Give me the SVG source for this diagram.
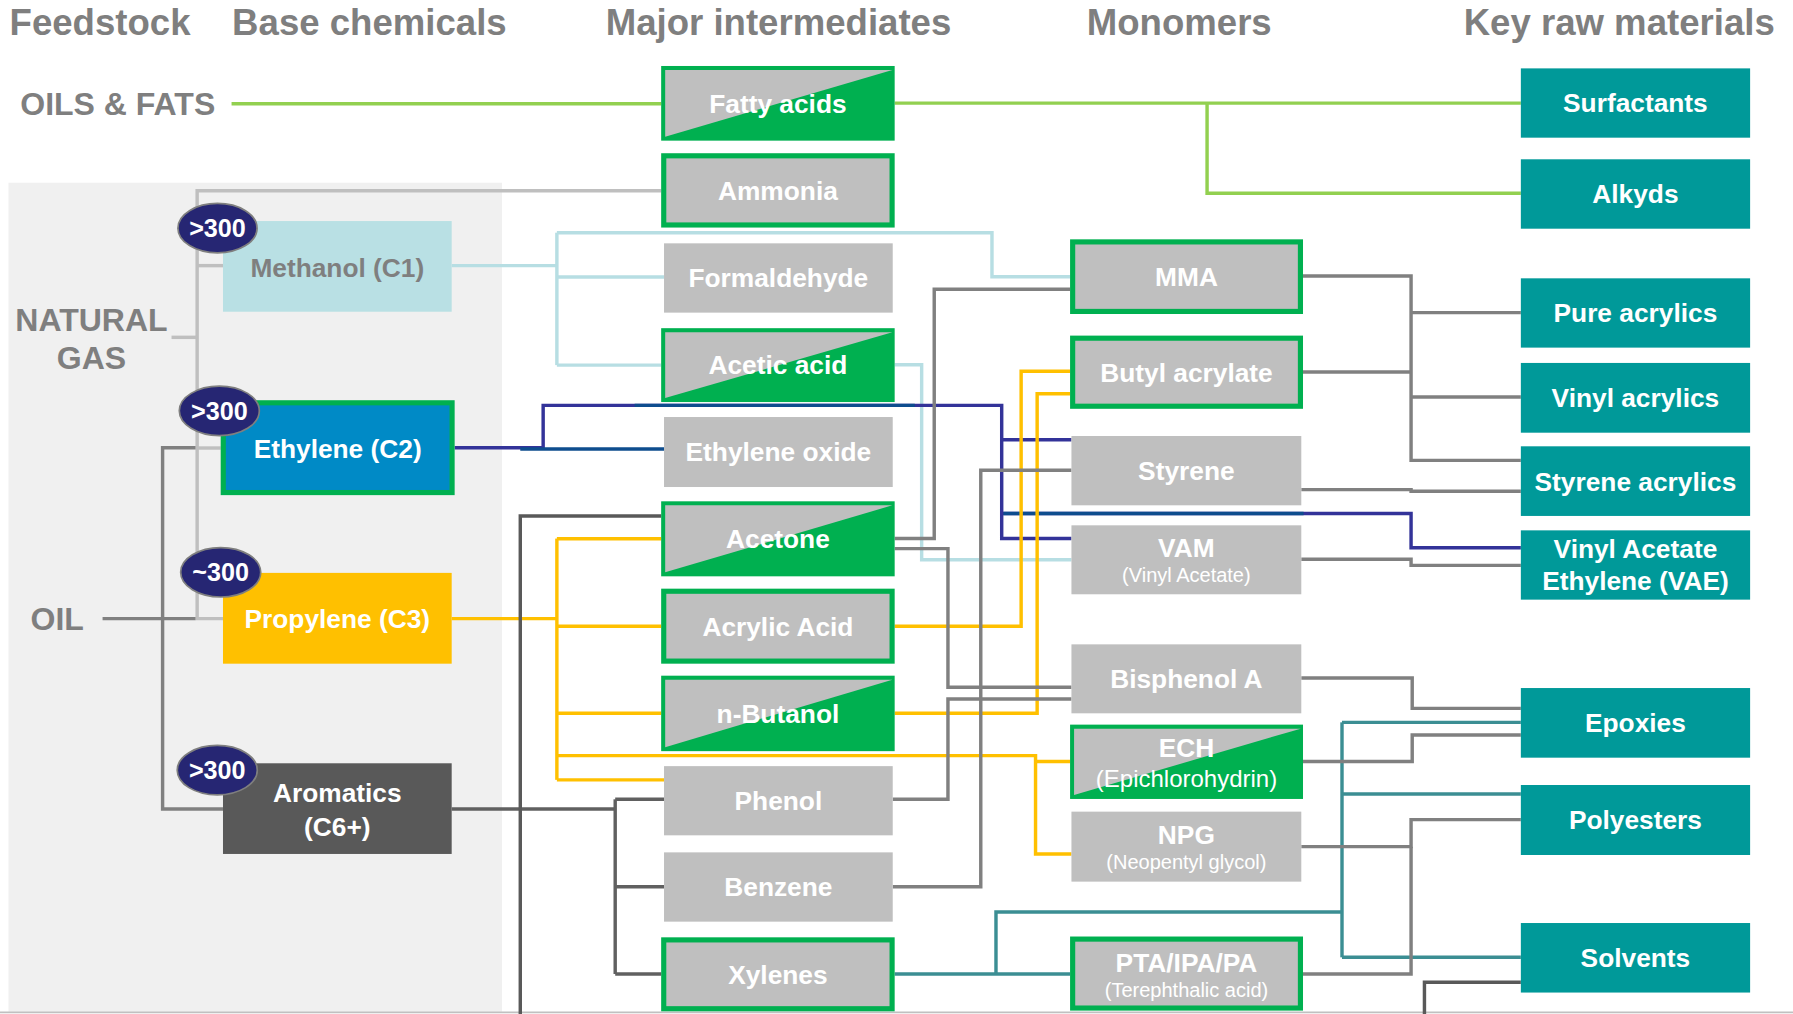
<svg xmlns="http://www.w3.org/2000/svg" width="1793" height="1014" viewBox="0 0 1793 1014">
<defs>
<style>
.hdr{font-family:"Liberation Sans",Arial,sans-serif;font-weight:bold;font-size:32px;fill:#7f7f7f}
.feed{font-family:"Liberation Sans",Arial,sans-serif;font-weight:bold;font-size:28px;fill:#7f7f7f;text-anchor:middle}
.lbl{font-family:"Liberation Sans",Arial,sans-serif;font-weight:bold;font-size:23px;fill:#ffffff;text-anchor:middle}
.lblg{font-family:"Liberation Sans",Arial,sans-serif;font-weight:bold;font-size:23px;fill:#7f7f7f;text-anchor:middle}
.sub{font-family:"Liberation Sans",Arial,sans-serif;font-size:17.5px;fill:#ffffff;text-anchor:middle}
.bdg{font-family:"Liberation Sans",Arial,sans-serif;font-weight:bold;font-size:22px;fill:#ffffff;text-anchor:middle}
.grn{fill:#00b050}
.gry{fill:#bfbfbf}
.key{fill:#009999}
.oval{fill:#262673;stroke:#7f7f7f;stroke-width:1.5}
.c{fill:none;stroke-width:3}
.lg{stroke:#92d050}
.lgr{stroke:#bfbfbf}
.dg{stroke:#808080}
.dk{stroke:#606060}
.lb{stroke:#b7dee3}
.pu{stroke:#333399}
.bl{stroke:#0e4d8e}
.ye{stroke:#ffc000}
.te{stroke:#3b8e93}
</style>
</defs>
<rect width="1793" height="1014" fill="#ffffff"/>
<g transform="scale(1.14349)">
<rect id="panel" x="7.4" y="159.8" width="431.6" height="725" fill="#f0f0f0"/>
<line x1="0" y1="885.3" x2="1568" y2="885.3" stroke="#c0c0c0" stroke-width="1.5"/>

<g id="headers">
<text class="hdr" x="8.4" y="30.6">Feedstock</text>
<text class="hdr" x="203" y="30.6">Base chemicals</text>
<text class="hdr" x="529.7" y="30.6">Major intermediates</text>
<text class="hdr" x="950.4" y="30.6">Monomers</text>
<text class="hdr" x="1280" y="30.6">Key raw materials</text>
</g>

<g id="connectors">
<path class="c lg" d="M202.5,90.7 H578.2"/>
<path class="c lg" d="M782.4,90.2 H1330"/>
<path class="c lg" d="M1055.6,90.2 V169 H1330"/>

<path class="c lgr" d="M578.2,166.8 H172.4 V541 H195"/>
<path class="c lgr" d="M172.4,232.3 H195"/>
<path class="c lgr" d="M150,295 H172.4"/>
<path class="c lgr" d="M172.4,391.8 H193"/>

<path class="c dg" d="M89.7,541 H171"/>
<path class="c dg" d="M171,391.6 H142.2 V707.5 H195"/>

<path class="c lb" d="M395,232.3 H487"/>
<path class="c lb" d="M487,203.5 V319.3"/>
<path class="c lb" d="M487,203.5 H867.5 V242 H935.8"/>
<path class="c lb" d="M487,242.3 H580.7"/>
<path class="c lb" d="M487,319.3 H578.2"/>
<path class="c lb" d="M782.4,319 H806 V489.5 H937"/>

<path class="c pu" d="M397.6,391.5 H475 V354.5 H876 V471 H937"/>
<path class="c pu" d="M876,384.5 H937"/>
<path class="c pu" d="M876,449 H1234 V479 H1330"/>
<path class="c bl" d="M455,392.6 H580.7"/>
<path class="c bl" d="M555,354.5 H800"/>
<path class="c bl" d="M877.5,449 H1140"/>

<path class="c ye" d="M395,541 H487"/>
<path class="c ye" d="M487,471 V682"/>
<path class="c ye" d="M487,471.2 H578.2"/>
<path class="c ye" d="M487,547.7 H578.2"/>
<path class="c ye" d="M487,623.8 H578.2"/>
<path class="c ye" d="M487,660.8 H905.6 V746.8 H937"/>
<path class="c ye" d="M905.6,666 H935.8"/>
<path class="c ye" d="M487,682 H580.7"/>
<path class="c ye" d="M782.4,547.7 H893 V324.7 H935.8"/>
<path class="c ye" d="M782.4,623.8 H907 V344.3 H935.8"/>

<path class="c dg" d="M782.4,471 H817 V253 H935.8"/>
<path class="c dg" d="M782.4,479.8 H829 V601 H937"/>
<path class="c dg" d="M780.7,699 H829 V611.3 H937"/>
<path class="c dg" d="M780.7,775.4 H857.7 V411.3 H937"/>

<path class="c dk" d="M395,707.5 H538"/>
<path class="c dk" d="M538,699 V851.8"/>
<path class="c dk" d="M538,699 H580.7"/>
<path class="c dk" d="M538,775.4 H580.7"/>
<path class="c dk" d="M538,851.8 H578.2"/>
<path class="c" stroke="#595959" d="M455,887 V451.3 H578.2"/>
<path class="c" stroke="#595959" d="M1245.7,887 V859 H1330"/>

<path class="c te" d="M782.4,851.8 H935.8"/>
<path class="c te" d="M871,851.8 V797.5 H1173.6"/>
<path class="c te" d="M1173.6,631.7 V837.2"/>
<path class="c te" d="M1173.6,631.7 H1330"/>
<path class="c te" d="M1173.6,694.4 H1330"/>
<path class="c te" d="M1173.6,837.2 H1330"/>

<path class="c dg" d="M1139.5,241.4 H1234 V402.6 H1330"/>
<path class="c dg" d="M1234,273.4 H1330"/>
<path class="c dg" d="M1234,347.2 H1330"/>
<path class="c dg" d="M1139.5,325.3 H1234"/>
<path class="c dg" d="M1138,428.2 H1234 V429.6 H1330"/>
<path class="c dg" d="M1138,489 H1234 V494.4 H1330"/>
<path class="c dg" d="M1138,593 H1235 V619.5 H1330"/>
<path class="c dg" d="M1139.5,666 H1235 V642.8 H1330"/>
<path class="c dg" d="M1138,740.4 H1234 V716.8 H1330"/>
<path class="c dg" d="M1139.5,851.8 H1234 V740.4"/>
</g>

<g id="feedstock-labels">
<text class="feed" x="103" y="100.5">OILS &amp; FATS</text>
<text class="feed" x="80" y="289.5">NATURAL</text>
<text class="feed" x="80" y="322.4">GAS</text>
<text class="feed" x="50" y="551">OIL</text>
</g>

<g id="methanol">
<rect x="195" y="193.3" width="200" height="79.3" fill="#b9e0e4"/>
<text class="lblg" x="295" y="242">Methanol (C1)</text>
<ellipse class="oval" cx="190.2" cy="199.5" rx="34.6" ry="21.6"/>
<text class="bdg" x="190.2" y="207.3">&gt;300</text>
</g>
<g id="ethylene">
<rect class="grn" x="193" y="350" width="204.6" height="83"/>
<rect x="197.5" y="354.5" width="195.6" height="74" fill="#008ac6"/>
<text class="lbl" x="295.3" y="400.5">Ethylene (C2)</text>
<ellipse class="oval" cx="191.8" cy="359.3" rx="35" ry="21.6"/>
<text class="bdg" x="191.8" y="367.1">&gt;300</text>
</g>
<g id="propylene">
<rect x="195" y="501" width="200" height="79.4" fill="#ffc000"/>
<text class="lbl" x="295" y="549">Propylene (C3)</text>
<ellipse class="oval" cx="193" cy="500.5" rx="35" ry="21.6"/>
<text class="bdg" x="193" y="508.3">~300</text>
</g>
<g id="aromatics">
<rect x="195" y="667.5" width="200" height="79.3" fill="#595959"/>
<text class="lbl" x="295" y="701.5">Aromatics</text>
<text class="lbl" x="295" y="730.8">(C6+)</text>
<ellipse class="oval" cx="190" cy="673.5" rx="35" ry="21.6"/>
<text class="bdg" x="190" y="681.3">&gt;300</text>
</g>

<g id="fatty-acids">
<rect class="grn" x="578.2" y="57.7" width="204.2" height="65.3"/>
<polygon class="gry" points="581.7,61.2 780.4,61.2 581.7,119.5"/>
<text class="lbl" x="680.3" y="98.6">Fatty acids</text>
</g>
<g id="ammonia">
<rect class="grn" x="578.2" y="134" width="204.2" height="65"/>
<rect class="gry" x="582.7" y="138.5" width="195.2" height="56"/>
<text class="lbl" x="680.3" y="174.7">Ammonia</text>
</g>
<g id="formaldehyde">
<rect class="gry" x="580.7" y="212.8" width="200" height="60.6"/>
<text class="lbl" x="680.7" y="251.3">Formaldehyde</text>
</g>
<g id="acetic-acid">
<rect class="grn" x="578.2" y="287" width="204.2" height="64.6"/>
<polygon class="gry" points="581.7,290.5 780.4,290.5 581.7,348.1"/>
<text class="lbl" x="680.3" y="327.5">Acetic acid</text>
</g>
<g id="ethylene-oxide">
<rect class="gry" x="580.7" y="364.7" width="200" height="61.2"/>
<text class="lbl" x="680.7" y="403.5">Ethylene oxide</text>
</g>
<g id="acetone">
<rect class="grn" x="578.2" y="438.4" width="204.2" height="65.6"/>
<polygon class="gry" points="581.7,441.9 780.4,441.9 581.7,500.5"/>
<text class="lbl" x="680.3" y="479.6">Acetone</text>
</g>
<g id="acrylic-acid">
<rect class="grn" x="578.2" y="514.8" width="204.2" height="65.6"/>
<rect class="gry" x="582.7" y="519.3" width="195.2" height="56.6"/>
<text class="lbl" x="680.3" y="555.8">Acrylic Acid</text>
</g>
<g id="n-butanol">
<rect class="grn" x="578.2" y="590.9" width="204.2" height="66"/>
<polygon class="gry" points="581.7,594.4 780.4,594.4 581.7,653.4"/>
<text class="lbl" x="680.3" y="632.2">n-Butanol</text>
</g>
<g id="phenol">
<rect class="gry" x="580.7" y="670" width="200" height="60.5"/>
<text class="lbl" x="680.7" y="708.4">Phenol</text>
</g>
<g id="benzene">
<rect class="gry" x="580.7" y="745.4" width="200" height="60.6"/>
<text class="lbl" x="680.7" y="783.9">Benzene</text>
</g>
<g id="xylenes">
<rect class="grn" x="578.2" y="819.7" width="204.2" height="64.7"/>
<rect class="gry" x="582.7" y="824.2" width="195.2" height="55.7"/>
<text class="lbl" x="680.3" y="860.2">Xylenes</text>
</g>

<g id="mma">
<rect class="grn" x="935.8" y="209.3" width="203.7" height="65.3"/>
<rect class="gry" x="940.3" y="213.8" width="194.7" height="56.3"/>
<text class="lbl" x="1037.6" y="250.2">MMA</text>
</g>
<g id="butyl-acrylate">
<rect class="grn" x="935.8" y="293.5" width="203.7" height="64"/>
<rect class="gry" x="940.3" y="298" width="194.7" height="55"/>
<text class="lbl" x="1037.6" y="333.7">Butyl acrylate</text>
</g>
<g id="styrene">
<rect class="gry" x="937" y="381.3" width="201" height="60.6"/>
<text class="lbl" x="1037.5" y="419.8">Styrene</text>
</g>
<g id="vam">
<rect class="gry" x="937" y="459.4" width="201" height="60.3"/>
<text class="lbl" x="1037.5" y="487">VAM</text>
<text class="sub" x="1037.5" y="509">(Vinyl Acetate)</text>
</g>
<g id="bisphenol-a">
<rect class="gry" x="937" y="563.5" width="201" height="60.3"/>
<text class="lbl" x="1037.5" y="601.9">Bisphenol A</text>
</g>
<g id="ech">
<rect class="grn" x="935.8" y="633.7" width="203.7" height="65"/>
<polygon class="gry" points="939.3,637.2 1137.5,637.2 939.3,695.2"/>
<text class="lbl" x="1037.6" y="662">ECH</text>
<text class="sub" x="1037.6" y="688.5" style="font-size:21px">(Epichlorohydrin)</text>
</g>
<g id="npg">
<rect class="gry" x="937" y="709.8" width="201" height="61.2"/>
<text class="lbl" x="1037.5" y="738">NPG</text>
<text class="sub" x="1037.5" y="760">(Neopentyl glycol)</text>
</g>
<g id="pta">
<rect class="grn" x="935.8" y="819" width="203.7" height="64.8"/>
<rect class="gry" x="940.3" y="823.5" width="194.7" height="55.8"/>
<text class="lbl" x="1037.6" y="849.7">PTA/IPA/PA</text>
<text class="sub" x="1037.6" y="872">(Terephthalic acid)</text>
</g>

<g id="surfactants">
<rect class="key" x="1330" y="59.8" width="200.5" height="60.6"/>
<text class="lbl" x="1430.2" y="98.3">Surfactants</text>
</g>
<g id="alkyds">
<rect class="key" x="1330" y="139.3" width="200.5" height="60.7"/>
<text class="lbl" x="1430.2" y="177.9">Alkyds</text>
</g>
<g id="pure-acrylics">
<rect class="key" x="1330" y="243.4" width="200.5" height="60.6"/>
<text class="lbl" x="1430.2" y="281.9">Pure acrylics</text>
</g>
<g id="vinyl-acrylics">
<rect class="key" x="1330" y="317.4" width="200.5" height="61"/>
<text class="lbl" x="1430.2" y="356.1">Vinyl acrylics</text>
</g>
<g id="styrene-acrylics">
<rect class="key" x="1330" y="390.3" width="200.5" height="60.9"/>
<text class="lbl" x="1430.2" y="429">Styrene acrylics</text>
</g>
<g id="vae">
<rect class="key" x="1330" y="463.8" width="200.5" height="60.6"/>
<text class="lbl" x="1430.2" y="487.7">Vinyl Acetate</text>
<text class="lbl" x="1430.2" y="516.3">Ethylene (VAE)</text>
</g>
<g id="epoxies">
<rect class="key" x="1330" y="601.7" width="200.5" height="60.9"/>
<text class="lbl" x="1430.2" y="640.4">Epoxies</text>
</g>
<g id="polyesters">
<rect class="key" x="1330" y="686.5" width="200.5" height="61.2"/>
<text class="lbl" x="1430.2" y="725.3">Polyesters</text>
</g>
<g id="solvents">
<rect class="key" x="1330" y="807.2" width="200.5" height="60.8"/>
<text class="lbl" x="1430.2" y="845.8">Solvents</text>
</g>
</g>
</svg>
